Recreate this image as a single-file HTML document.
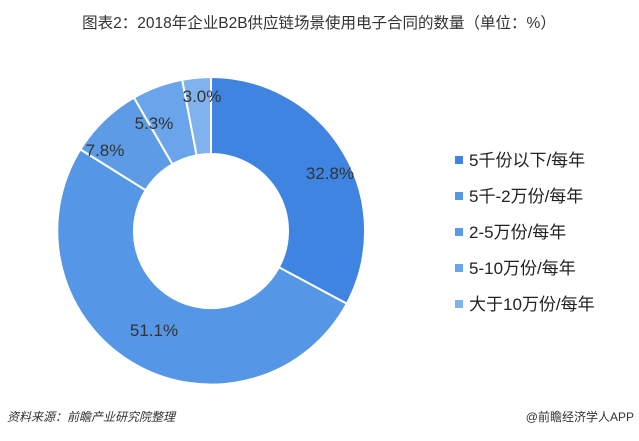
<!DOCTYPE html>
<html><head><meta charset="utf-8"><style>
body{margin:0;width:639px;height:441px;background:#fff;overflow:hidden;font-family:"Liberation Sans","Noto Sans CJK SC",sans-serif}
</style></head><body>
<svg width="639" height="441" viewBox="0 0 639 441" xmlns="http://www.w3.org/2000/svg" style="position:absolute;left:0;top:0">
<text x="319" y="28" text-anchor="middle" font-size="15.5" fill="#333" font-family="Liberation Sans,Noto Sans CJK SC,sans-serif">图表2：2018年企业B2B供应链场景使用电子合同的数量（单位：%）</text>
<g stroke="#fff" stroke-width="2">
<path d="M211,77 A154,154 0 0 1 346.8,303.7 L278.9,267.3 A77,77 0 0 0 211,154 Z" fill="#3f84e0"/>
<path d="M346.8,303.7 A154,154 0 1 1 80.4,149.4 L145.7,190.2 A77,77 0 1 0 278.9,267.3 Z" fill="#5596e6"/>
<path d="M80.4,149.4 A154,154 0 0 1 134,97.6 L172.5,164.3 A77,77 0 0 0 145.7,190.2 Z" fill="#5d9be7"/>
<path d="M134,97.6 A154,154 0 0 1 182.2,79.8 L196.6,155.4 A77,77 0 0 0 172.5,164.3 Z" fill="#6aa4ea"/>
<path d="M182.2,79.8 A154,154 0 0 1 211,77 L211,154 A77,77 0 0 0 196.6,155.4 Z" fill="#80b2ee"/>
</g>
<g font-size="17" fill="#333" text-anchor="middle" font-family="Liberation Sans,sans-serif">
<text x="330" y="179">32.8%</text>
<text x="154" y="336">51.1%</text>
<text x="105" y="156">7.8%</text>
<text x="154" y="129">5.3%</text>
<text x="202" y="102">3.0%</text>
</g>
<g font-size="17" fill="#222" font-family="Liberation Sans,Noto Sans CJK SC,sans-serif">
<rect x="455" y="156" width="8" height="8" fill="#3f84e0"/><text x="469" y="166">5千份以下/每年</text>
<rect x="455" y="192" width="8" height="8" fill="#5596e6"/><text x="469" y="202">5千-2万份/每年</text>
<rect x="455" y="228" width="8" height="8" fill="#5d9be7"/><text x="469" y="238">2-5万份/每年</text>
<rect x="455" y="264" width="8" height="8" fill="#6aa4ea"/><text x="469" y="274">5-10万份/每年</text>
<rect x="455" y="300" width="8" height="8" fill="#80b2ee"/><text x="469" y="310">大于10万份/每年</text>
</g>
<text x="7" y="421" font-size="12" font-style="italic" fill="#333" font-family="Liberation Sans,Noto Sans CJK SC,sans-serif">资料来源：前瞻产业研究院整理</text>
<text x="634" y="421" font-size="12" text-anchor="end" fill="#333" font-family="Liberation Sans,Noto Sans CJK SC,sans-serif">@前瞻经济学人APP</text>
</svg>
</body></html>
